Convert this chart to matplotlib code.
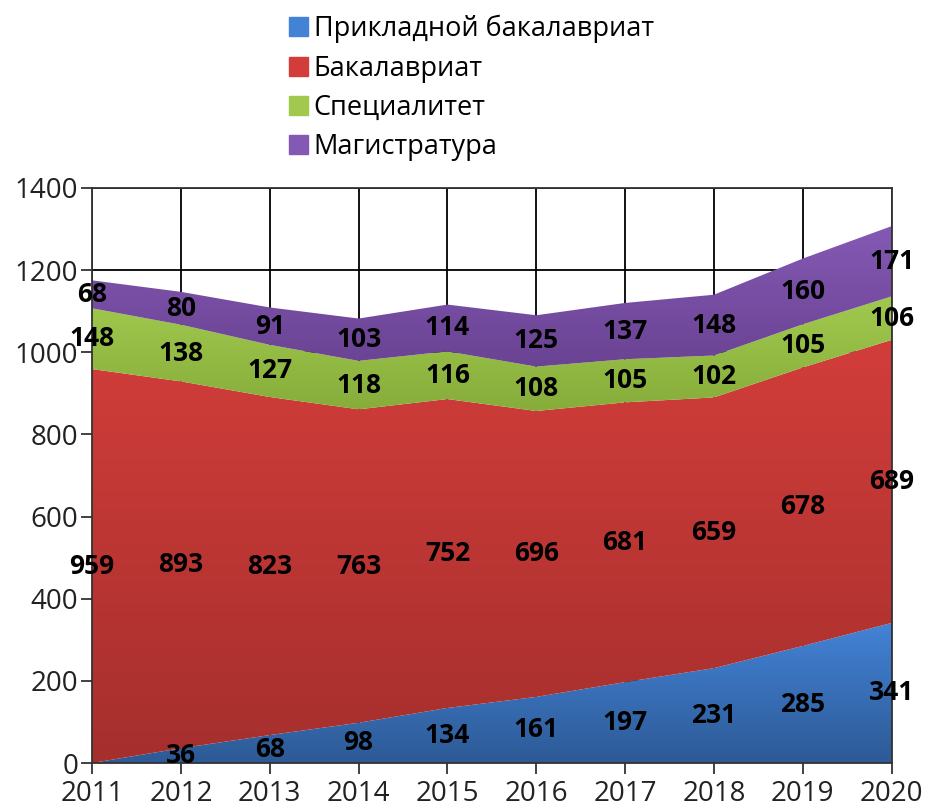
import matplotlib
matplotlib.use("Agg")
import matplotlib.pyplot as plt
import numpy as np
from matplotlib.colors import LinearSegmentedColormap
from matplotlib.patches import Polygon

plt.rcParams['font.family'] = ['Open Sans', 'DejaVu Sans']

years = [2011, 2012, 2013, 2014, 2015, 2016, 2017, 2018, 2019, 2020]
applied_bach = [0, 36, 68, 98, 134, 161, 197, 231, 285, 341]
bachelor = [959, 893, 823, 763, 752, 696, 681, 659, 678, 689]
specialist = [148, 138, 127, 118, 116, 108, 105, 102, 105, 106]
master = [68, 80, 91, 103, 114, 125, 137, 148, 160, 171]

names = ['Прикладной бакалавриат', 'Бакалавриат', 'Специалитет', 'Магистратура']
series = [applied_bach, bachelor, specialist, master]
# (light top colour, dark bottom colour)
colors = [('#4383d6', '#2d5a96'), ('#d23d3a', '#a52f2d'),
          ('#a2c94e', '#86ad3a'), ('#8459b4', '#6a4393')]

fig = plt.figure(figsize=(9.26, 8.10), dpi=100)
ax = fig.add_axes([0.0994, 0.058, 0.8635, 0.71])

x = np.array(years, dtype=float)
bottom = np.zeros(len(years))
for vals, name, (c1, c2) in zip(series, names, colors):
    vals = np.array(vals, dtype=float)
    top = bottom + vals
    verts = list(zip(x, top)) + list(zip(x[::-1], bottom[::-1]))
    poly = Polygon(verts, closed=True, facecolor='none', edgecolor='none')
    ax.add_patch(poly)
    cmap = LinearSegmentedColormap.from_list('g', [c2, c1])
    grad = np.linspace(0, 1, 256).reshape(-1, 1)
    ymin, ymax = bottom.min(), top.max()
    im = ax.imshow(grad, cmap=cmap, aspect='auto', origin='lower',
                   extent=[x[0], x[-1], ymin, ymax], zorder=2)
    im.set_clip_path(poly)
    ax.fill_between([], [], color=c1, label=name)
    for xi, b, v in zip(x, bottom, vals):
        if v > 0:
            ax.text(xi, b + v / 2, str(int(v)), ha='center', va='center',
                    fontsize=19, fontweight='bold', color='black', zorder=5)
    bottom = top

ax.set_xlim(years[0], years[-1])
ax.set_ylim(0, 1400)
ax.set_xticks(years)
ax.set_yticks(range(0, 1401, 200))
ax.grid(True, color='black', linewidth=1.3)
ax.set_axisbelow(True)
for s in ax.spines.values():
    s.set_color('#333333')
    s.set_linewidth(1.3)
ax.tick_params(direction='out', length=8, width=1.3, labelsize=20,
               colors='#333333', labelcolor='#222222')
ax.tick_params(axis='x', pad=4)
ax.tick_params(axis='y', pad=2)

handles, labels = ax.get_legend_handles_labels()
fig.legend(handles, labels, loc='upper left', bbox_to_anchor=(0.292, 1.005),
           frameon=False, fontsize=19.5, handlelength=0.7, handleheight=0.7,
           handletextpad=0.2, labelspacing=0.42, borderaxespad=0.3)

fig.savefig('out.png', dpi=100)
